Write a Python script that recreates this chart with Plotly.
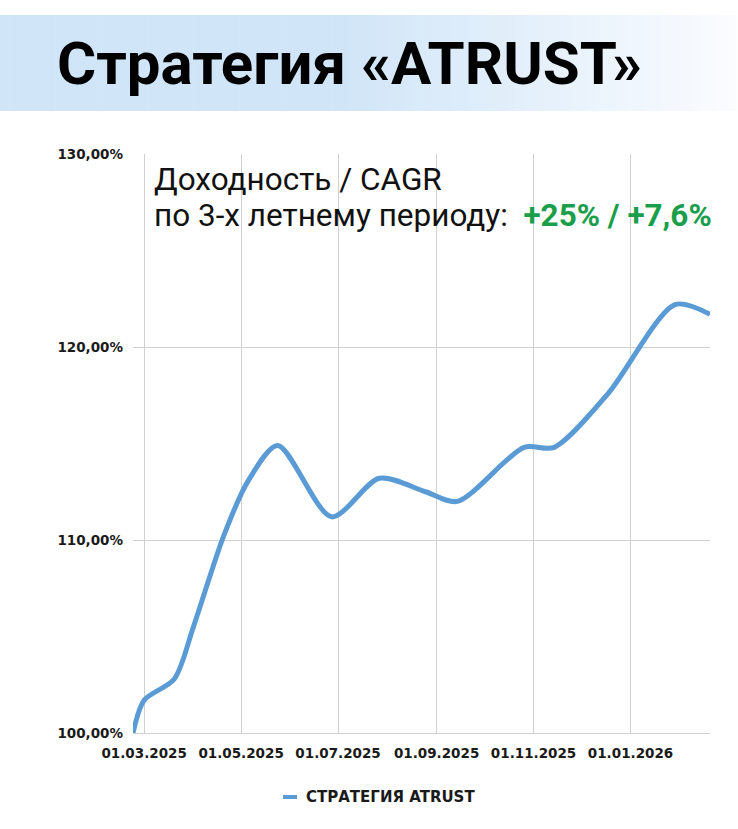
import plotly.graph_objects as go

dates = ["2025-02-22", "2025-03-01", "2025-03-20", "2025-04-01", "2025-04-20",
         "2025-05-05", "2025-05-24", "2025-06-27", "2025-07-27", "2025-08-25",
         "2025-09-14", "2025-10-26", "2025-11-14", "2025-12-18", "2026-01-29",
         "2026-02-20"]
values = [100.0, 101.7, 102.8, 105.5, 110.2,
          113.0, 114.9, 111.2, 113.2, 112.5,
          112.0, 114.8, 114.8, 117.6, 122.2,
          121.7]

x_tick_vals = ["2025-03-01", "2025-05-01", "2025-07-01", "2025-09-01", "2025-11-01", "2026-01-01"]
x_tick_text = ["01.03.2025", "01.05.2025", "01.07.2025", "01.09.2025", "01.11.2025", "01.01.2026"]
y_tick_vals = [100, 110, 120, 130]
y_tick_text = ["100,00%", "110,00%", "120,00%", "130,00%"]

series_name = "СТРАТЕГИЯ ATRUST"
title_text = "Стратегия «ATRUST»"
note_line1 = "Доходность / CAGR"
note_line2 = "по 3-х летнему периоду:"
note_value = "+25% / +7,6%"

W, H = 738, 829
ML, MR, MT, MB = 133, 28, 154, 96

fig = go.Figure()
fig.add_trace(go.Scatter(
    x=dates, y=values, mode="lines", name=series_name,
    line=dict(color="#5b9bd5", width=5, shape="spline", smoothing=0.8),
    cliponaxis=False, showlegend=False,
))

def px_x(p):
    return (p - ML) / (W - ML - MR)

def px_y(p):
    return (H - MB - p) / (H - MT - MB)

shapes = []
n = 80
x0p, x1p = 0, 736
top, bot = 15, 111
c0 = (208, 229, 248)
c1 = (250, 252, 255)
for i in range(n):
    a = x0p + (x1p - x0p) * i / n
    b = x0p + (x1p - x0p) * (i + 1) / n + 0.5
    t = i / (n - 1)
    t = max(0.0, (t - 0.45) / 0.55)
    col = tuple(int(c0[k] + (c1[k] - c0[k]) * t) for k in range(3))
    shapes.append(dict(type="rect", xref="paper", yref="paper",
                       x0=px_x(a), x1=px_x(b), y0=px_y(bot), y1=px_y(top),
                       fillcolor="rgb(%d,%d,%d)" % col, line=dict(width=0),
                       layer="below"))

# legend marker
shapes.append(dict(type="line", xref="paper", yref="paper",
                   x0=px_x(283), x1=px_x(297), y0=px_y(797), y1=px_y(797),
                   line=dict(color="#5b9bd5", width=4)))

tick_font = dict(family="DejaVu Sans, Verdana, sans-serif", size=13.5, color="#1a1a1a", weight="bold")
note_font = dict(family="Roboto, Arial", size=31.5, color="#111111")

annotations = [
    dict(xref="paper", yref="paper", x=px_x(55), y=px_y(64), xanchor="left", yanchor="middle",
         text="<b>" + title_text + "</b>", showarrow=False,
         font=dict(family="Liberation Sans Narrow, Roboto, Arial", size=60, color="#000000")),
    dict(xref="paper", yref="paper", x=px_x(152), y=px_y(179), xanchor="left", yanchor="middle",
         text=note_line1, showarrow=False, align="left", font=note_font),
    dict(xref="paper", yref="paper", x=px_x(152), y=px_y(215), xanchor="left", yanchor="middle",
         text=note_line2 + "  <b><span style='color:#1a9e4b'>" + note_value + "</span></b>",
         showarrow=False, align="left", font=note_font),
    dict(xref="paper", yref="paper", x=px_x(304), y=px_y(797), xanchor="left", yanchor="middle",
         text="<b>" + series_name + "</b>", showarrow=False,
         font=dict(family="DejaVu Sans, Verdana, sans-serif", size=15, color="#1a1a1a")),
]

fig.update_layout(
    width=W, height=H,
    margin=dict(l=ML, r=MR, t=MT, b=MB),
    paper_bgcolor="white", plot_bgcolor="white",
    shapes=shapes, annotations=annotations,
    xaxis=dict(type="date", range=["2025-02-22", "2026-02-20"],
               tickvals=x_tick_vals, ticktext=x_tick_text,
               showgrid=True, gridcolor="#d0d0d0", gridwidth=1,
               showline=True, linecolor="#d0d0d0", zeroline=False,
               ticks="", ticklabelstandoff=8, tickfont=tick_font),
    yaxis=dict(range=[100, 130], tickvals=y_tick_vals, ticktext=y_tick_text,
               showgrid=True, gridcolor="#d0d0d0", gridwidth=1,
               zeroline=False, showline=False, ticks="", ticklabelstandoff=9,
               tickfont=tick_font),
    showlegend=False,
)

fig.write_html("out.html")
